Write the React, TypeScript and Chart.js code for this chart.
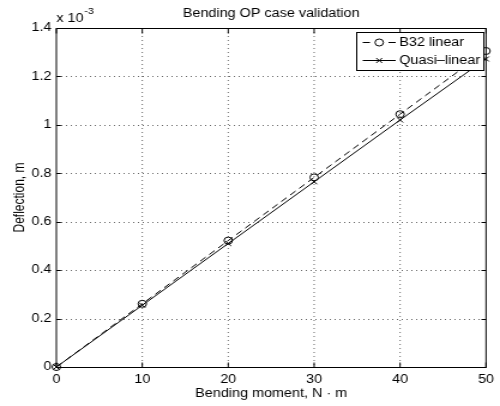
import React, { useEffect, useRef } from "react";
import { Chart, registerables } from "chart.js";

Chart.register(...registerables);

// ---- data ----
const moments = [0, 10, 20, 30, 40, 50];
const b32Linear = [0, 0.261e-3, 0.522e-3, 0.783e-3, 1.044e-3, 1.305e-3];
const quasiLinear = [0, 0.255e-3, 0.51e-3, 0.765e-3, 1.02e-3, 1.272e-3];
const xTicks = [0, 10, 20, 30, 40, 50];
const yTicks = [0, 0.2e-3, 0.4e-3, 0.6e-3, 0.8e-3, 1.0e-3, 1.2e-3, 1.4e-3];
const seriesLabels = ["B32 linear", "Quasi\u2013linear"];
const titleText = "Bending OP case validation";
const xLabel = "Bending moment, N \u00b7 m";
const yLabel = "Deflection, m";
const yExponentBase = "x 10";
const yExponent = "-3";
const yScaleFactor = 1e-3;

// ---- layout (internal canvas units; canvas is stretched horizontally) ----
const OUT_W = 500;
const OUT_H = 406;
const W = 417;
const STRETCH = OUT_W / W;
const FONT = '"Liberation Sans", Arial, Helvetica, sans-serif';

const matlabPlugin = {
  id: "matlabLook",
  beforeDatasetsDraw(chart: any) {
    const { ctx, chartArea: a, scales } = chart;
    const x = scales.x;
    const y = scales.y;
    ctx.save();
    ctx.strokeStyle = "rgba(0,0,0,0.6)";
    ctx.lineWidth = 1;
    ctx.setLineDash([1, 3]);
    for (const v of xTicks) {
      const px = x.getPixelForValue(v);
      if (px <= a.left + 1 || px >= a.right - 1) continue;
      ctx.beginPath();
      ctx.moveTo(px, a.top);
      ctx.lineTo(px, a.bottom);
      ctx.stroke();
    }
    for (const v of yTicks) {
      const py = Math.round(y.getPixelForValue(v)) + 0.5;
      if (py <= a.top + 1 || py >= a.bottom - 1) continue;
      ctx.beginPath();
      ctx.moveTo(a.left, py);
      ctx.lineTo(a.right, py);
      ctx.stroke();
    }
    ctx.restore();
  },
  afterDatasetsDraw(chart: any) {
    const { ctx, chartArea: a, scales } = chart;
    const x = scales.x;
    const y = scales.y;
    ctx.save();
    ctx.setLineDash([]);
    ctx.strokeStyle = "#000";
    ctx.lineWidth = 1;
    // box
    const top = Math.round(a.top) + 0.5;
    const bottom = Math.round(a.bottom) + 0.5;
    ctx.strokeRect(a.left, top, a.right - a.left, bottom - top);
    // inner tick marks on all four sides
    const tx = 5;
    const ty = 3.8;
    ctx.beginPath();
    for (const v of xTicks) {
      const px = x.getPixelForValue(v);
      ctx.moveTo(px, bottom);
      ctx.lineTo(px, bottom - tx);
      ctx.moveTo(px, top);
      ctx.lineTo(px, top + tx);
    }
    for (const v of yTicks) {
      const py = Math.round(y.getPixelForValue(v)) + 0.5;
      ctx.moveTo(a.left, py);
      ctx.lineTo(a.left + ty, py);
      ctx.moveTo(a.right, py);
      ctx.lineTo(a.right - ty, py);
    }
    ctx.stroke();

    // title
    ctx.fillStyle = "#000";
    ctx.font = `12px ${FONT}`;
    ctx.textAlign = "center";
    ctx.textBaseline = "alphabetic";
    ctx.fillText(titleText, (a.left + a.right) / 2, 17);

    // exponent label
    ctx.textAlign = "left";
    ctx.font = `12px ${FONT}`;
    ctx.fillText(yExponentBase, a.left, 22);
    const bw = ctx.measureText(yExponentBase).width;
    ctx.font = `9px ${FONT}`;
    ctx.fillText(yExponent, a.left + bw + 0.5, 14);

    // legend
    const lx0 = 297.5;
    const ly0 = 32.5;
    const lw = 106;
    const lh = 38;
    ctx.fillStyle = "#fff";
    ctx.fillRect(lx0, ly0, lw, lh);
    ctx.strokeStyle = "#000";
    ctx.lineWidth = 1;
    ctx.strokeRect(lx0, ly0, lw, lh);
    const rowsY = [42.5, 60.5];
    const sx0 = 302.5;
    const sx1 = 330;
    const sxm = (sx0 + sx1) / 2;
    chart.data.datasets.forEach((d: any, i: number) => {
      const cy = rowsY[i];
      ctx.strokeStyle = d.borderColor;
      ctx.lineWidth = d.borderWidth;
      ctx.setLineDash([]);
      ctx.beginPath();
      if (d.borderDash && d.borderDash.length) {
        ctx.moveTo(sx0, cy);
        ctx.lineTo(sx0 + 6, cy);
        ctx.moveTo(sx1 - 6, cy);
        ctx.lineTo(sx1, cy);
      } else {
        ctx.moveTo(sx0, cy);
        ctx.lineTo(sx1, cy);
      }
      ctx.stroke();
      // marker
      ctx.beginPath();
      const r = d.pointRadius;
      if (d.pointStyle === "circle") {
        ctx.arc(sxm, cy, r, 0, Math.PI * 2);
      } else {
        const o = r * Math.SQRT1_2;
        ctx.moveTo(sxm - o, cy - o);
        ctx.lineTo(sxm + o, cy + o);
        ctx.moveTo(sxm - o, cy + o);
        ctx.lineTo(sxm + o, cy - o);
      }
      ctx.stroke();
      ctx.fillStyle = "#000";
      ctx.font = `12px ${FONT}`;
      ctx.textAlign = "left";
      ctx.textBaseline = "middle";
      ctx.fillText(d.label, 333, cy);
    });
    ctx.restore();
  },
};

export default function App() {
  const canvasRef = useRef<HTMLCanvasElement | null>(null);

  useEffect(() => {
    document.body.style.margin = "0";
    const canvas = canvasRef.current;
    if (!canvas) return;
    const chart = new Chart(canvas, {
      type: "line",
      data: {
        datasets: [
          {
            label: seriesLabels[0],
            data: moments.map((m, i) => ({ x: m, y: b32Linear[i] })),
            borderColor: "#000",
            backgroundColor: "rgba(0,0,0,0)",
            borderWidth: 1,
            borderDash: [6, 4],
            pointStyle: "circle",
            pointRadius: 3.5,
            pointBorderWidth: 1,
            pointBorderColor: "#000",
            pointBackgroundColor: "rgba(0,0,0,0)",
            tension: 0,
            clip: false as any,
          },
          {
            label: seriesLabels[1],
            data: moments.map((m, i) => ({ x: m, y: quasiLinear[i] })),
            borderColor: "#000",
            backgroundColor: "rgba(0,0,0,0)",
            borderWidth: 1,
            pointStyle: "crossRot",
            pointRadius: 3.5,
            pointBorderWidth: 1,
            pointBorderColor: "#000",
            pointBackgroundColor: "rgba(0,0,0,0)",
            tension: 0,
            clip: false as any,
          },
        ],
      },
      options: {
        animation: false,
        responsive: false,
        devicePixelRatio: 1,
        layout: { padding: { top: 28, right: 10, left: 0, bottom: 0 } },
        plugins: {
          legend: { display: false },
          title: { display: false },
          tooltip: { enabled: false },
        },
        scales: {
          x: {
            type: "linear",
            min: 0,
            max: 50,
            grid: { display: false, drawTicks: false, tickLength: 0 },
            border: { display: false },
            afterBuildTicks: (s: any) => {
              s.ticks = xTicks.map((v) => ({ value: v }));
            },
            afterFit: (s: any) => {
              s.height = 39;
            },
            ticks: {
              color: "#000",
              padding: 5,
              maxRotation: 0,
              font: { family: FONT, size: 12 },
              callback: (v: any) => String(v),
            },
            title: {
              display: true,
              text: xLabel,
              color: "#000",
              font: { family: FONT, size: 12 },
              padding: { top: 0, bottom: 5 },
            },
          },
          y: {
            type: "linear",
            min: 0,
            max: 1.4e-3,
            grid: { display: false, drawTicks: false, tickLength: 0 },
            border: { display: false },
            afterBuildTicks: (s: any) => {
              s.ticks = yTicks.map((v) => ({ value: v }));
            },
            afterFit: (s: any) => {
              s.width = 47;
            },
            ticks: {
              color: "#000",
              padding: 4,
              font: { family: FONT, size: 12 },
              callback: (v: any) => String(Number((Number(v) / yScaleFactor).toFixed(1))),
            },
            title: {
              display: true,
              text: yLabel,
              color: "#000",
              font: { family: FONT, size: 12 },
              padding: { top: 9, bottom: 0 },
            },
          },
        },
      },
      plugins: [matlabPlugin],
    });
    return () => chart.destroy();
  }, []);

  return (
    <div style={{ width: OUT_W, height: OUT_H, overflow: "hidden", background: "#fff" }}>
      <div
        style={{
          width: W,
          height: OUT_H,
          transform: `scaleX(${STRETCH})`,
          transformOrigin: "0 0",
        }}
      >
        <canvas ref={canvasRef} width={W} height={OUT_H} />
      </div>
    </div>
  );
}
